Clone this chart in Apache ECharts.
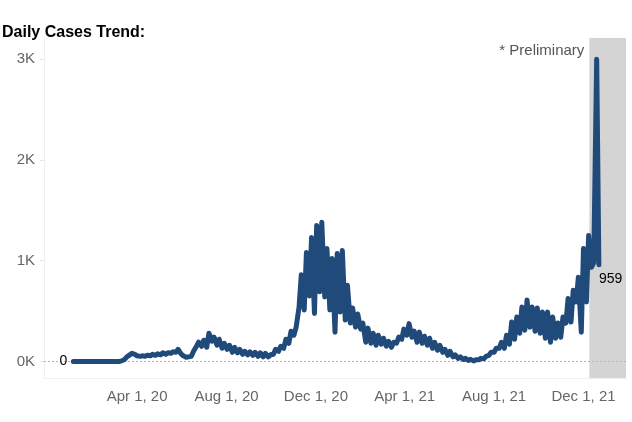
<!DOCTYPE html>
<html><head><meta charset="utf-8">
<script src="https://cdn.jsdelivr.net/npm/echarts@6/dist/echarts.min.js"></script>
<style>html,body{margin:0;padding:0;background:#fff}#chart{width:632px;height:422px}</style>
</head><body><div id="chart"></div>
<script>
// Weekly readings: each week starts on a Sunday (low reporting day) and Wednesday (high day)
const firstSunday = '2020-01-05';
const sundayCases = [
  0,0,0,0,0,0,0,0,0,0,
  20,65,70,50,50,55,60,65,70,80,
  90,75,40,50,150,150,140,200,160,130,
  120,90,85,70,65,60,50,45,45,70,
  100,130,180,260,540,510,650,475,690,640,
  510,290,490,410,380,340,320,190,180,160,
  170,150,140,180,220,260,240,190,180,160,
  130,110,90,60,45,30,20,10,5,15,
  25,60,90,130,130,170,220,280,310,340,
  300,280,230,190,230,240,380,390,590,290,
  590,935,3000
];
const wednesdayCases = [
  0,0,0,0,0,0,0,0,0,5,
  45,80,55,55,60,70,75,85,85,95,
  120,55,45,100,190,210,280,240,220,180,
  160,140,120,100,95,90,85,80,65,120,
  150,220,300,340,860,1080,1230,1350,1380,1120,
  1020,1070,1100,755,530,470,380,330,280,260,
  230,200,190,240,320,375,300,290,250,230,
  190,160,120,100,65,45,30,20,15,30,
  50,90,130,190,260,390,440,540,610,540,
  530,490,490,440,380,440,625,705,835,1120,
  1250,980,959
];
const tickDates = ['2020-04-01','2020-08-01','2020-12-01','2021-04-01','2021-08-01','2021-12-01'];
const tickLabels = ['Apr 1, 20','Aug 1, 20','Dec 1, 20','Apr 1, 21','Aug 1, 21','Dec 1, 21'];
const yTickValues = [0, 1000, 2000, 3000];
const yTickLabels = ['0K', '1K', '2K', '3K'];
const axisStart = '2019-11-26';
const axisEnd = '2022-01-28';
const preliminaryStart = '2021-12-09';
const titleText = 'Daily Cases Trend:';
const preliminaryText = '* Preliminary';

const DAY = 86400000;
function ts(s, addDays) {
  const p = s.split('-').map(Number);
  return Date.UTC(p[0], p[1] - 1, p[2] + (addDays || 0)) / DAY;  // day number
}

const seriesData = [];
for (let k = 0; k < sundayCases.length; k++) {
  seriesData.push([ts(firstSunday, 7 * k), sundayCases[k]]);
  seriesData.push([ts(firstSunday, 7 * k + 3), wednesdayCases[k]]);
}
const lineData = seriesData.map((d, i) => {
  if (i === 0) {
    return { value: d, label: { show: true, position: 'left', distance: 6, color: '#000', fontSize: 14, formatter: '0' } };
  }
  if (i === seriesData.length - 1) {
    return { value: d, label: { show: true, position: 'right', distance: 0, offset: [0, 14], color: '#000', fontSize: 14, formatter: String(d[1]) } };
  }
  return d;
});

const tickTs = tickDates.map(s => ts(s));
const font = '"Liberation Sans", Arial, sans-serif';

const chart = echarts.init(document.getElementById('chart'), null, { renderer: 'canvas' });
chart.setOption({
  animation: false,
  textStyle: { fontFamily: font },
  title: {
    text: titleText, left: 2, top: 25, padding: 0,
    textStyle: { fontFamily: font, fontSize: 16, fontWeight: 'bold', color: '#000' }
  },
  grid: { left: 44, right: 6, top: 38, bottom: 44 },
  xAxis: {
    type: 'value',
    min: ts(axisStart), max: ts(axisEnd),
    axisLine: { show: true, onZero: false, lineStyle: { color: '#efefef' } },
    axisTick: { show: false },
    splitLine: { show: false },
    axisLabel: {
      customValues: tickTs,
      margin: 11,
      color: '#666', fontSize: 15, fontFamily: font,
      formatter: function (v) {
        const i = tickTs.indexOf(v);
        return i >= 0 ? tickLabels[i] : '';
      }
    }
  },
  yAxis: {
    type: 'value',
    min: -165, max: 3210,
    axisLine: { show: true, lineStyle: { color: '#f0f0f0' } },
    axisTick: { show: true, customValues: yTickValues, length: 4, lineStyle: { color: '#e4e4e4' } },
    splitLine: { show: false },
    axisLabel: {
      customValues: yTickValues,
      margin: 9,
      color: '#666', fontSize: 15, fontFamily: font,
      formatter: function (v) {
        const i = yTickValues.indexOf(v);
        return i >= 0 ? yTickLabels[i] : '';
      }
    }
  },
  series: [{
    type: 'line',
    data: lineData,
    showSymbol: true,
    showAllSymbol: true,
    symbol: 'circle',
    symbolSize: 0,
    silent: true,
    emphasis: { disabled: true },
    lineStyle: { color: '#1f4a7a', width: 5, cap: 'round', join: 'round' },
    itemStyle: { color: '#1f4a7a' },
    z: 5,
    markArea: {
      silent: true,
      itemStyle: { color: '#d4d4d4' },
      label: {
        show: true,
        position: [-5, 5],
        align: 'right',
        verticalAlign: 'top',
        color: '#555', fontSize: 15, fontFamily: font,
        formatter: preliminaryText
      },
      data: [[{ xAxis: ts(preliminaryStart) }, { xAxis: ts(axisEnd) }]]
    },
    markLine: {
      silent: true,
      symbol: 'none',
      label: { show: false },
      lineStyle: { color: '#b4b4b4', type: [2, 2], width: 1 },
      data: [{ yAxis: 0 }]
    }
  }]
});
</script>
</body></html>
